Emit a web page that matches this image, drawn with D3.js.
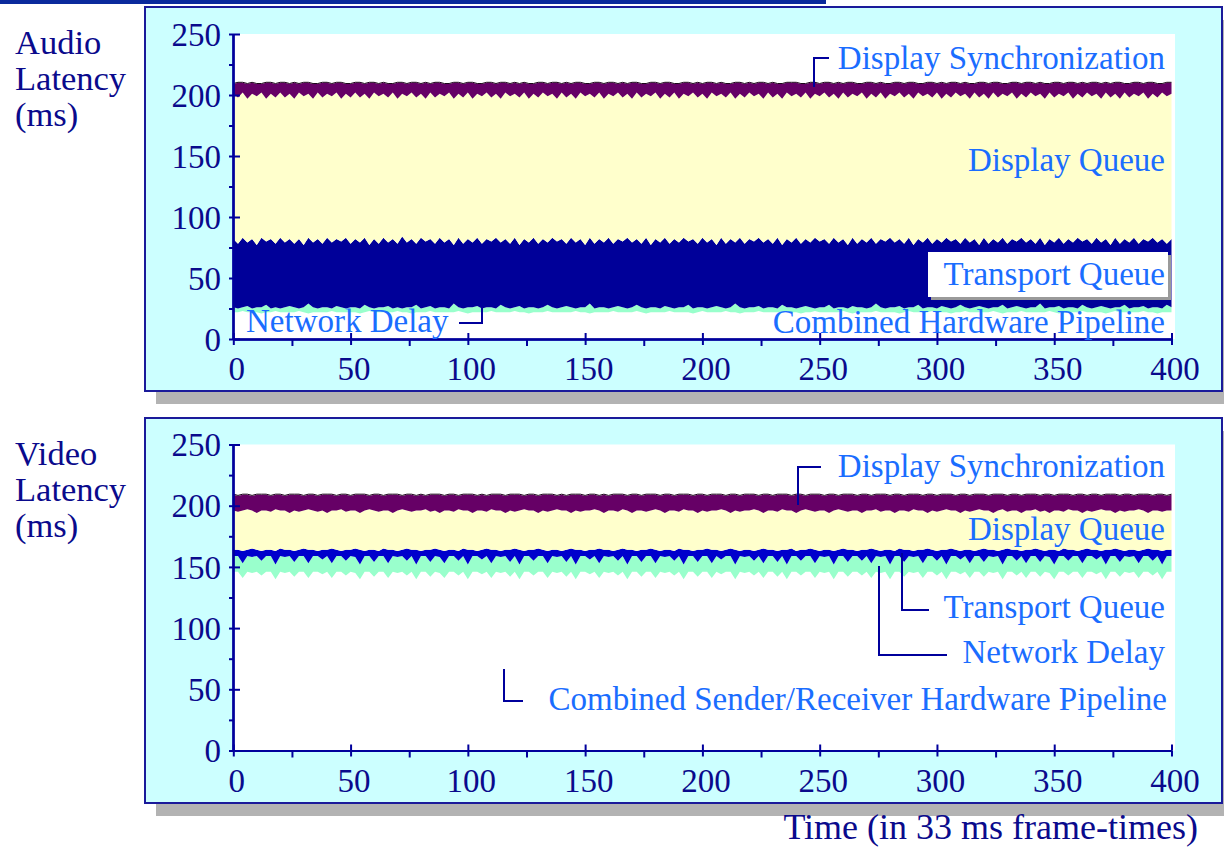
<!DOCTYPE html>
<html><head><meta charset="utf-8">
<script src="https://cdn.jsdelivr.net/npm/d3@7"></script>
<style>body{margin:0;background:#fff}svg{display:block}</style>
</head><body>
<script>
// Sample spacing (frames) for every series below: index i -> frame i*2, 0..400
const frameStep = 2;

// ---------- AUDIO: cumulative latency (ms) at the end of each stage ----------
const audioHardware = [
22,22,23,22,22,22,21,22,22,23,22,22,22,22,23,22,21,22,22,22,
22,23,22,22,22,22,22,21,22,23,22,22,22,22,22,23,22,22,21,22,
22,22,23,22,22,22,22,22,23,22,21,22,22,22,22,23,22,22,22,22,
23,22,22,21,22,22,22,23,22,22,22,22,22,23,22,22,21,22,22,22,
22,23,22,22,22,22,23,22,21,22,22,22,22,23,22,22,22,22,21,22,
23,22,22,22,22,23,22,22,21,22,22,22,23,22,22,22,22,22,23,22,
22,21,22,22,23,22,22,22,22,22,23,22,21,22,22,22,22,23,22,22,
22,22,21,22,23,22,22,22,22,23,22,22,22,21,22,22,23,22,22,22,
22,22,23,22,21,22,22,22,23,22,22,22,22,22,23,22,21,22,22,22,
22,23,22,22,22,22,21,22,23,22,22,22,22,22,23,22,22,21,22,22,
22];
const audioNetwork = [
26,25,26,27,25,26,26,28,25,26,25,26,27,26,25,26,29,26,25,26,
26,25,27,26,25,26,26,25,28,26,25,26,26,27,25,26,25,26,26,28,
25,26,27,25,26,26,25,29,26,25,26,26,27,25,26,26,25,28,26,25,
26,27,25,26,26,25,26,28,26,25,26,27,26,25,26,26,29,25,26,26,
25,26,27,26,25,26,28,26,25,26,26,25,27,26,25,26,26,28,25,26,
26,25,26,27,26,25,26,29,26,25,26,26,27,25,26,26,25,28,26,26,
25,26,27,26,25,26,26,28,25,26,26,25,27,26,26,25,26,29,26,25,
26,26,27,25,26,26,28,25,26,26,25,27,26,25,26,28,26,25,26,27,
26,25,26,26,28,25,26,27,26,25,26,26,29,25,26,26,27,25,26,26,
25,28,26,25,26,27,26,25,26,26,28,25,26,26,27,25,26,26,25,28,
26];
const audioTransport = [
82,78,83,79,82,77,83,80,82,78,83,79,82,78,82,77,83,79,82,78,
83,79,82,80,83,78,82,79,83,77,82,78,83,79,82,78,84,79,82,78,
83,80,82,78,83,79,82,77,83,78,82,79,83,78,82,80,83,79,82,78,
83,77,82,79,83,78,82,79,83,80,82,78,83,79,82,77,83,78,82,79,
83,78,82,80,83,79,82,78,83,77,82,79,83,78,82,79,83,80,82,78,
83,79,82,77,83,78,82,79,83,78,82,80,83,79,82,78,83,77,82,79,
83,78,82,79,83,80,82,78,83,79,82,77,83,78,82,79,83,78,82,80,
83,79,82,78,83,77,82,79,83,78,82,79,83,80,82,78,83,79,82,77,
83,78,82,79,83,78,82,80,83,79,82,78,83,77,82,79,83,78,82,79,
83,80,82,78,83,79,82,77,83,78,82,79,83,78,82,80,83,79,82,78,
82];
const audioDisplayQueue = [
201,198,202,197,201,199,202,197,201,198,202,198,201,197,202,199,201,197,202,198,
201,199,202,197,201,198,202,198,201,197,202,199,201,198,202,197,201,199,202,198,
201,197,202,198,201,199,202,197,201,198,202,197,201,199,202,198,201,197,202,199,
201,198,202,197,201,198,202,199,201,197,202,198,201,197,202,199,201,198,202,197,
201,199,202,198,201,197,202,198,201,199,202,197,201,198,202,197,201,199,202,198,
201,197,202,199,201,198,202,197,201,198,202,199,201,197,202,198,201,197,202,199,
201,198,202,197,201,199,202,198,201,197,202,198,201,199,202,197,201,198,202,197,
201,199,202,198,201,197,202,199,201,198,202,197,201,198,202,199,201,197,202,198,
201,197,202,198,201,199,202,197,201,198,202,199,201,197,202,198,201,199,202,197,
201,198,202,199,201,197,202,198,201,197,202,198,201,199,202,197,201,198,202,199,
201];
const audioDisplaySync = [
209,210,210,209,210,209,209,210,210,209,210,210,209,210,209,210,210,209,209,210,
210,209,210,210,209,209,210,210,209,210,210,209,210,209,209,210,210,209,210,210,
209,210,209,210,210,209,209,210,210,209,210,210,209,209,210,210,209,210,210,209,
210,209,210,209,209,210,210,209,210,210,209,210,209,210,210,209,209,210,210,209,
210,210,209,210,209,210,210,209,209,210,210,209,210,210,209,209,210,210,209,210,
209,210,210,209,210,209,209,210,210,209,210,209,210,210,209,210,209,209,210,210,
210,209,209,210,210,209,210,210,209,210,209,210,210,209,209,210,210,209,210,209,
209,210,210,209,210,210,209,209,210,210,209,210,209,210,210,209,210,209,209,210,
210,209,210,210,209,209,210,210,209,210,210,209,210,209,209,210,210,209,210,210,
209,210,209,210,210,209,210,209,210,210,209,209,210,210,209,210,210,209,209,210,
210];

// ---------- VIDEO: cumulative latency (ms) at the end of each stage ----------
const videoHardware = [
146,146,141,146,145,146,143,146,146,140,146,145,146,142,146,146,141,146,146,144,
146,141,146,146,143,146,145,140,146,146,142,146,146,141,146,145,146,143,146,140,
146,146,142,146,145,141,146,146,143,146,140,146,146,144,146,141,146,145,146,142,
146,140,146,146,143,146,146,141,146,145,146,142,146,140,146,146,144,146,141,146,
145,146,143,146,140,146,146,142,146,146,141,146,145,146,143,146,140,146,146,142,
146,146,141,146,144,146,146,140,146,145,146,143,146,141,146,146,142,146,140,146,
146,143,146,146,141,146,145,146,140,146,146,142,146,146,143,146,141,146,145,146,
140,146,146,142,146,145,146,141,146,146,143,146,140,146,146,144,146,141,146,146,
142,146,145,146,140,146,146,143,146,141,146,146,142,146,145,140,146,146,143,146,
146,141,146,146,144,146,140,146,146,142,146,145,146,141,146,146,143,146,140,146,
146];
const videoNetwork = [
159,159,153,159,158,159,155,159,159,152,159,158,159,154,159,159,153,159,159,156,
159,153,159,159,155,159,158,152,159,159,154,159,159,153,159,158,159,155,159,152,
159,159,154,159,158,153,159,159,155,159,152,159,159,156,159,153,159,158,159,154,
159,152,159,159,155,159,159,153,159,158,159,154,159,152,159,159,156,159,153,159,
158,159,155,159,152,159,159,154,159,159,153,159,158,159,155,159,152,159,159,154,
159,159,153,159,156,159,159,152,159,158,159,155,159,153,159,159,154,159,152,159,
159,155,159,159,153,159,158,159,152,159,159,154,159,159,155,159,153,159,158,159,
152,159,159,154,159,158,159,153,159,159,155,159,152,159,159,156,159,153,159,159,
154,159,158,159,152,159,159,155,159,153,159,159,154,159,158,152,159,159,155,159,
159,153,159,159,156,159,152,159,159,154,159,158,159,153,159,159,155,159,152,159,
159];
const videoTransport = [
164,164,163,164,165,164,163,164,164,163,165,164,164,163,164,165,164,164,163,164,
164,165,164,163,164,164,165,164,163,164,164,163,165,164,164,163,164,165,164,164,
163,164,164,165,164,163,164,164,163,165,164,164,163,164,165,164,164,163,164,164,
165,164,163,164,164,165,164,163,164,164,163,164,165,164,164,163,164,164,165,164,
164,163,164,165,164,164,163,164,164,165,164,163,164,164,163,165,164,164,163,164,
164,165,164,164,163,164,165,164,163,164,164,163,164,165,164,164,163,164,164,165,
163,164,164,165,164,163,164,164,163,164,165,164,164,163,164,164,165,164,163,164,
164,163,165,164,164,163,164,164,165,164,163,164,164,165,164,163,164,164,163,164,
165,164,164,163,164,165,164,164,163,164,164,165,164,163,164,164,163,165,164,164,
163,164,165,164,164,163,164,164,165,164,163,164,164,163,164,165,164,164,163,164,
164];
const videoDisplayQueue = [
196,195,196,197,196,194,196,196,195,197,196,196,194,196,195,196,197,196,195,196,
194,196,196,197,195,196,196,194,196,197,196,195,196,196,194,196,197,196,195,196,
196,197,195,196,194,196,196,195,197,196,196,194,196,196,195,197,196,196,194,196,
195,196,197,196,196,194,196,195,196,197,196,196,194,196,195,196,196,197,196,194,
196,196,195,197,196,194,196,196,195,196,197,196,194,196,196,195,197,196,196,194,
196,195,196,196,197,196,194,196,195,196,196,197,196,194,196,196,195,197,196,196,
194,196,197,196,195,196,196,194,196,197,196,195,196,196,194,196,196,197,195,196,
196,194,196,196,195,197,196,196,194,196,195,196,197,196,196,194,196,195,196,197,
196,196,194,196,197,195,196,196,194,196,196,197,195,196,194,196,196,195,197,196,
196,194,196,195,196,197,196,196,194,196,195,196,196,197,196,194,196,196,195,196,
196];
const videoDisplaySync = [
209,208,209,209,208,209,209,209,208,209,209,208,209,209,209,208,209,209,208,209,
209,209,208,209,209,208,209,209,209,208,209,209,208,209,209,209,208,209,209,208,
209,208,209,209,209,208,209,209,208,209,209,209,208,209,208,209,209,209,208,209,
209,209,208,209,209,208,209,209,209,208,209,208,209,209,209,208,209,209,208,209,
208,209,209,209,208,209,209,208,209,209,209,208,209,209,208,209,209,209,208,209,
209,208,209,209,209,208,209,209,208,209,209,209,208,209,209,208,209,209,209,208,
209,209,208,209,209,209,208,209,209,208,209,209,209,208,209,209,208,209,209,209,
208,209,209,208,209,209,209,208,209,209,208,209,209,209,208,209,209,208,209,209,
209,208,209,209,209,208,209,209,208,209,209,209,208,209,209,208,209,209,209,208,
209,209,208,209,209,208,209,209,209,208,209,209,208,209,209,209,208,209,209,208,
209];

// ---------- Axes / labels ----------
const yMajorTicks = [0, 50, 100, 150, 200, 250];
const yMinorTicks = [25, 75, 125, 175, 225];
const xMajorTicks = [0, 50, 100, 150, 200, 250, 300, 350, 400];
const xMinorTicks = [25, 75, 125, 175, 225, 275, 325, 375];
const audioTitle = ["Audio", "Latency", "(ms)"];
const videoTitle = ["Video", "Latency", "(ms)"];
const stageNames = ["Combined Hardware Pipeline", "Network Delay", "Transport Queue", "Display Queue", "Display Synchronization"];
const videoHardwareName = "Combined Sender/Receiver Hardware Pipeline";
const xAxisTitle = "Time (in 33 ms frame-times)";
const audioColors = ["#ffffff", "#99ffcc", "#000099", "#ffffcc", "#660066"];
const videoColors = ["#ffffff", "#99ffcc", "#0000cc", "#ffffcc", "#660066"];

const W = 1224, H = 849;
const SERIF = "'Liberation Serif','Times New Roman',Times,serif";
const NAVY = "#0a0a8c", AXIS = "#00009c", ANNOT = "#1a6dff";

const svg = d3.select("body").append("svg").attr("width", W).attr("height", H);
svg.append("rect").attr("width", W).attr("height", H).attr("fill", "#fff");
svg.append("rect").attr("x", 0).attr("y", 0).attr("width", 826).attr("height", 4).attr("fill", "#0a2a9c");

const x = d3.scaleLinear().domain([0, 400]).range([233.3, 1171.5]);

function drawPanel(o) {
  const g = svg.append("g");
  g.append("rect").attr("x", 156).attr("y", o.top + 13).attr("width", 1080).attr("height", o.bottom - o.top).attr("fill", "#b3b3b3");
  g.append("rect").attr("x", 145).attr("y", o.top).attr("width", 1077).attr("height", o.bottom - o.top)
    .attr("fill", "#ccffff").attr("stroke", "#1a1a9a").attr("stroke-width", 2);
  const y = d3.scaleLinear().domain([0, 250]).range([o.plotBottom, o.plotTop]);
  g.append("rect").attr("x", 233).attr("y", o.plotTop).attr("width", 1175 - 233).attr("height", o.plotBottom - o.plotTop).attr("fill", "#fff");

  const bounds = [o.series[0].map(() => 0)].concat(o.series);
  for (let k = 0; k < o.series.length; k++) {
    const lo = bounds[k], hi = bounds[k + 1];
    const area = d3.area()
      .x((d, i) => x(i * frameStep))
      .y0((d, i) => y(lo[i]))
      .y1(d => y(d));
    g.append("path").datum(hi).attr("d", area).attr("fill", o.colors[k]);
  }
  const top = o.series[o.series.length - 1];
  g.append("path").datum(top)
    .attr("d", d3.line().x((d, i) => x(i * frameStep)).y(d => y(d) - 0.5))
    .attr("fill", "none").attr("stroke", "#1a0018").attr("stroke-width", 1);

  const style = sel => {
    sel.attr("color", AXIS).attr("font-family", SERIF).attr("font-size", 33);
    sel.selectAll("line,path").attr("stroke-width", 2);
    sel.selectAll("text").attr("fill", NAVY);
  };
  const yx = 233;
  g.append("g").attr("transform", `translate(${yx},0)`)
    .call(d3.axisLeft(y).tickValues(yMajorTicks).tickSize(4).tickSizeOuter(0).tickPadding(8)).call(style)
    .selectAll("text").attr("dy", "0.34em");
  g.append("g").attr("transform", `translate(${yx},0)`)
    .call(d3.axisRight(y).tickValues(yMajorTicks).tickSize(7).tickSizeOuter(0).tickFormat("")).call(style);
  g.append("g").attr("transform", `translate(${yx},0)`)
    .call(d3.axisLeft(y).tickValues(yMinorTicks).tickSize(4).tickSizeOuter(0).tickFormat("")).call(style);
  const xy = o.plotBottom;
  g.append("g").attr("transform", `translate(0,${xy})`)
    .call(d3.axisBottom(x).tickValues(xMajorTicks).tickSize(6).tickSizeOuter(0).tickPadding(12)).call(style)
    .selectAll("text").attr("dx", 3);
  g.append("g").attr("transform", `translate(0,${xy})`)
    .call(d3.axisTop(x).tickValues(xMajorTicks).tickSize(6).tickSizeOuter(0).tickFormat("")).call(style);
  g.append("g").attr("transform", `translate(0,${xy})`)
    .call(d3.axisBottom(x).tickValues(xMinorTicks).tickSize(7).tickSizeOuter(0).tickFormat("")).call(style);

  // title: three lines
  o.title.forEach((s, i) => g.append("text").attr("x", 15).attr("y", o.top + 47 + i * 36)
    .attr("font-family", SERIF).attr("font-size", 34.5).attr("fill", NAVY).text(s));

  o.notes.forEach(n => {
    if (n.box) {
      g.append("rect").attr("x", n.box[0] + 3).attr("y", n.box[1] + 3).attr("width", n.box[2]).attr("height", n.box[3]).attr("fill", "#9a9a9a");
      g.append("rect").attr("x", n.box[0]).attr("y", n.box[1]).attr("width", n.box[2]).attr("height", n.box[3]).attr("fill", "#fff");
    }
    g.append("text").attr("x", n.x).attr("y", n.y).attr("text-anchor", n.anchor || "end")
      .attr("font-family", SERIF).attr("font-size", 33).attr("fill", ANNOT).text(n.text);
    if (n.leader) {
      g.append("path").attr("d", d3.line()(n.leader)).attr("fill", "none").attr("stroke", AXIS).attr("stroke-width", 2);
    }
  });
}

drawPanel({
  top: 7, bottom: 391, plotTop: 34, plotBottom: 339,
  series: [audioHardware, audioNetwork, audioTransport, audioDisplayQueue, audioDisplaySync],
  colors: audioColors, title: audioTitle,
  notes: [
    { text: stageNames[4], x: 1165, y: 69, leader: [[829, 58], [814, 58], [814, 87]] },
    { text: stageNames[3], x: 1165, y: 171 },
    { text: stageNames[2], x: 1165, y: 285, box: [928, 252, 240, 45] },
    { text: stageNames[1], x: 246, y: 332, anchor: "start", leader: [[459, 323], [482, 323], [482, 307]] },
    { text: stageNames[0], x: 1165, y: 333 }
  ]
});

drawPanel({
  top: 418, bottom: 803, plotTop: 444.5, plotBottom: 750.5,
  series: [videoHardware, videoNetwork, videoTransport, videoDisplayQueue, videoDisplaySync],
  colors: videoColors, title: videoTitle,
  notes: [
    { text: stageNames[4], x: 1165, y: 477, leader: [[821, 467], [798, 467], [798, 505]] },
    { text: stageNames[3], x: 1165, y: 540 },
    { text: stageNames[2], x: 1165, y: 618, leader: [[902, 553], [902, 610], [929, 610]] },
    { text: stageNames[1], x: 1165, y: 663, leader: [[879, 566], [879, 655], [947, 655]] },
    { text: videoHardwareName, x: 1167, y: 710, leader: [[504, 669], [504, 701], [523, 701]] }
  ]
});

svg.append("text").attr("x", 1198).attr("y", 839).attr("text-anchor", "end")
  .attr("font-family", SERIF).attr("font-size", 36).attr("fill", NAVY).text(xAxisTitle);
</script>
</body></html>
